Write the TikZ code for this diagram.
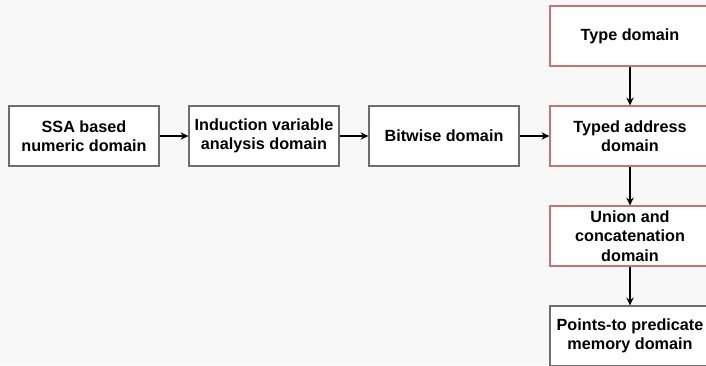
\documentclass[tikz,border=0pt]{standalone}
\usepackage{fontspec}
\setmainfont{Liberation Sans}
\usetikzlibrary{arrows.meta}
\definecolor{bg}{HTML}{F8F8F8}
\definecolor{greyline}{HTML}{6E6E6E}
\definecolor{redline}{HTML}{C47474}
\tikzset{
  box/.style={draw=greyline, fill=white, line width=1.2pt, minimum width=150pt, minimum height=60pt,
    inner sep=0pt, align=center, font=\fontsize{16.2}{19.5}\selectfont\bfseries},
  redbox/.style={box, draw=redline, minimum width=160pt},
  conn/.style={line width=1.1pt, -{Stealth[length=8pt,width=7.5pt,inset=3pt]}}
}
\begin{document}
\begin{tikzpicture}[x=1pt,y=-1pt]
\useasboundingbox (0,0) rectangle (706,365);
\fill[bg] (0,0) rectangle (706,365);
\clip (0,0) rectangle (706,365);
\node[box] (ssa) at (84,136) {SSA based\\numeric domain};
\node[box] (ind) at (264,136) {Induction variable\\analysis domain};
\node[box] (bit) at (444,136) {Bitwise domain};
\node[redbox] (type) at (630,36) {Type domain};
\node[redbox] (taddr) at (630,136) {Typed address\\domain};
\node[redbox] (union) at (630,236) {Union and\\concatenation\\domain};
\node[box, minimum width=160pt] (pts) at (630,336) {Points-to predicate\\memory domain};
\draw[conn] (ssa) -- (ind);
\draw[conn] (ind) -- (bit);
\draw[conn] (bit) -- (taddr);
\draw[conn] (type) -- (taddr);
\draw[conn] (taddr) -- (union);
\draw[conn] (union) -- (pts);
\end{tikzpicture}
\end{document}
